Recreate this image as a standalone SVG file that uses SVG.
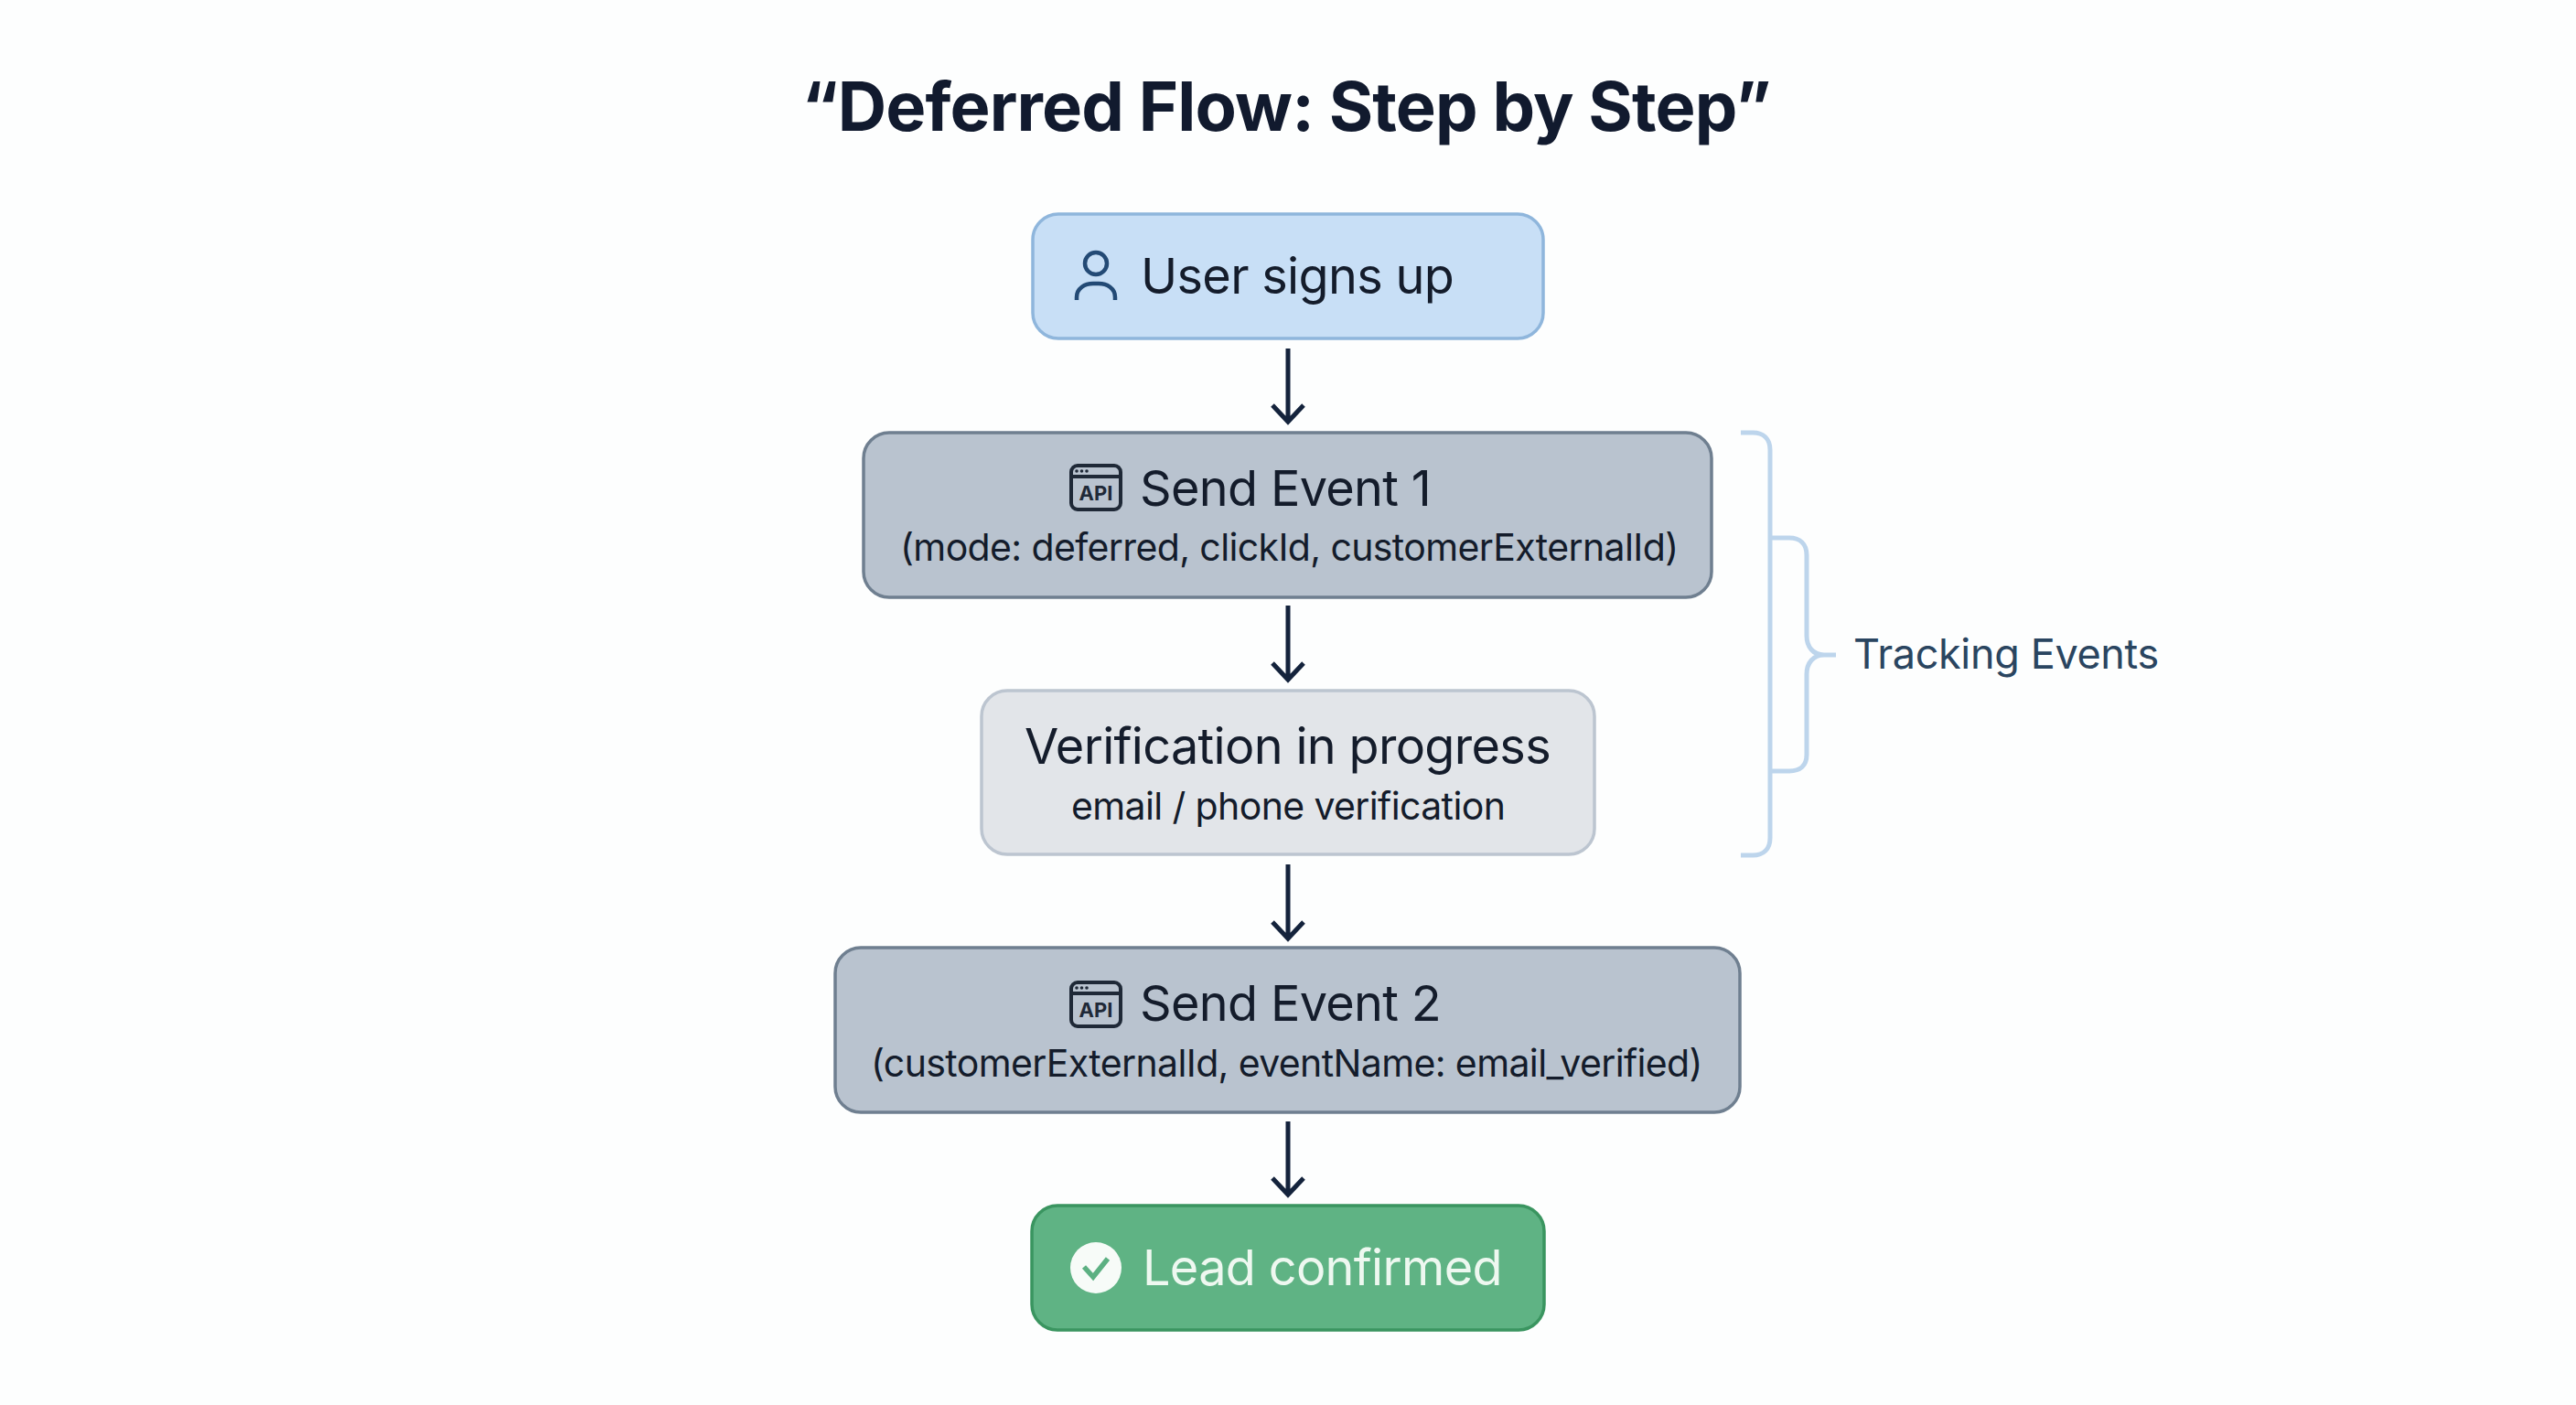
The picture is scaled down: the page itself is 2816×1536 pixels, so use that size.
<svg xmlns="http://www.w3.org/2000/svg" width="2816" height="1536" viewBox="0 0 2816 1536">
<style>
text{font-family:Inter,"Liberation Sans",sans-serif;fill:#141c2b}
.main{font-size:54px;letter-spacing:-0.68px;text-anchor:start}
.sub{font-size:41px;letter-spacing:-0.62px;text-anchor:start}
.box{stroke-width:3.5}
.arrow{fill:none;stroke:#14233c;stroke-width:5}
.brace{fill:none;stroke:#bdd5ec;stroke-width:5}
.api{fill:none;stroke:#1f2937;stroke-width:4}
.apit{font-size:22px;font-weight:700;text-anchor:middle;fill:#1f2937}
</style>
<defs>
<g id="apiicon"><rect class="api" x="1171" y="509" width="54" height="48" rx="7"/><path class="api" d="M1171 521H1225"/><circle cx="1177" cy="515" r="1.8" fill="#1f2937"/><circle cx="1182.500" cy="515" r="1.8" fill="#1f2937"/><circle cx="1188" cy="515" r="1.8" fill="#1f2937"/><text class="apit" x="1198" y="547">API</text></g>
</defs>
<rect width="2816" height="1536" fill="#fdfefe"/>
<text id="title" x="1406" y="143" style="font-size:74px;font-weight:700;letter-spacing:-0.85px;text-anchor:middle;fill:#111a2e">“Deferred Flow: Step by Step”</text>
<g id="connectors">
<path class="arrow" d="M1408 381V461M1391 443L1408 461L1425 443"/>
<path class="arrow" d="M1408 662V743M1391 725L1408 743L1425 725"/>
<path class="arrow" d="M1408 945V1026M1391 1008L1408 1026L1425 1008"/>
<path class="arrow" d="M1408 1226V1306M1391 1288L1408 1306L1425 1288"/>
</g>
<g id="node-signup">
<rect class="box" x="1129" y="234" width="558" height="136" rx="28" fill="#c8dff6" stroke="#8fb6dc"/>
<circle cx="1198" cy="288" r="12" fill="none" stroke="#234a75" stroke-width="4.500"/>
<path d="M1177 328V325C1177 315 1186 310 1195 310H1201C1210 310 1219 315 1219 325V328" fill="none" stroke="#234a75" stroke-width="4.500"/>
<text class="main" x="1247" y="321">User signs up</text>
</g>
<g id="node-event1">
<rect class="box" x="944" y="473" width="927" height="180" rx="28" fill="#b9c3cf" stroke="#6f7f90"/>
<use href="#apiicon"/>
<text class="main" x="1246" y="553">Send Event 1</text>
<text class="sub" x="984" y="613">(mode: deferred, clickId, customerExternalId)</text>
</g>
<g id="node-verification">
<rect class="box" x="1073" y="755" width="670" height="179" rx="28" fill="#e2e5e9" stroke="#bcc5d0"/>
<text class="main" x="1120" y="835">Verification in progress</text>
<text class="sub" x="1171" y="896">email / phone verification</text>
</g>
<g id="node-event2">
<rect class="box" x="913" y="1036" width="989" height="180" rx="28" fill="#b9c3cf" stroke="#6f7f90"/>
<use href="#apiicon" y="565"/>
<text class="main" x="1246" y="1116">Send Event 2</text>
<text class="sub" x="952" y="1177">(customerExternalId, eventName: email_verified)</text>
</g>
<g id="node-confirmed">
<rect class="box" x="1128" y="1318" width="560" height="136" rx="28" fill="#5fb384" stroke="#3a9560"/>
<circle cx="1198" cy="1386" r="28" fill="#f7fbf8"/>
<path d="M1185 1385L1195 1396L1211 1376" fill="none" stroke="#5cb082" stroke-width="5.500"/>
<text class="main" x="1249" y="1405" style="fill:#eef8f0">Lead confirmed</text>
</g>
<g id="group-tracking">
<path class="brace" d="M1903 473H1916C1928 473 1935 480 1935 492V916C1935 928 1928 935 1916 935H1903"/>
<path class="brace" d="M1935 588H1956C1968 588 1975 595 1975 607V695C1975 707 1982 716 1994 716H2007M1994 716C1982 716 1975 725 1975 737V825C1975 837 1968 843 1956 843H1935"/>
<text x="2026" y="731" style="font-size:45px;letter-spacing:-0.35px;fill:#2a4560">Tracking Events</text>
</g>
</svg>
